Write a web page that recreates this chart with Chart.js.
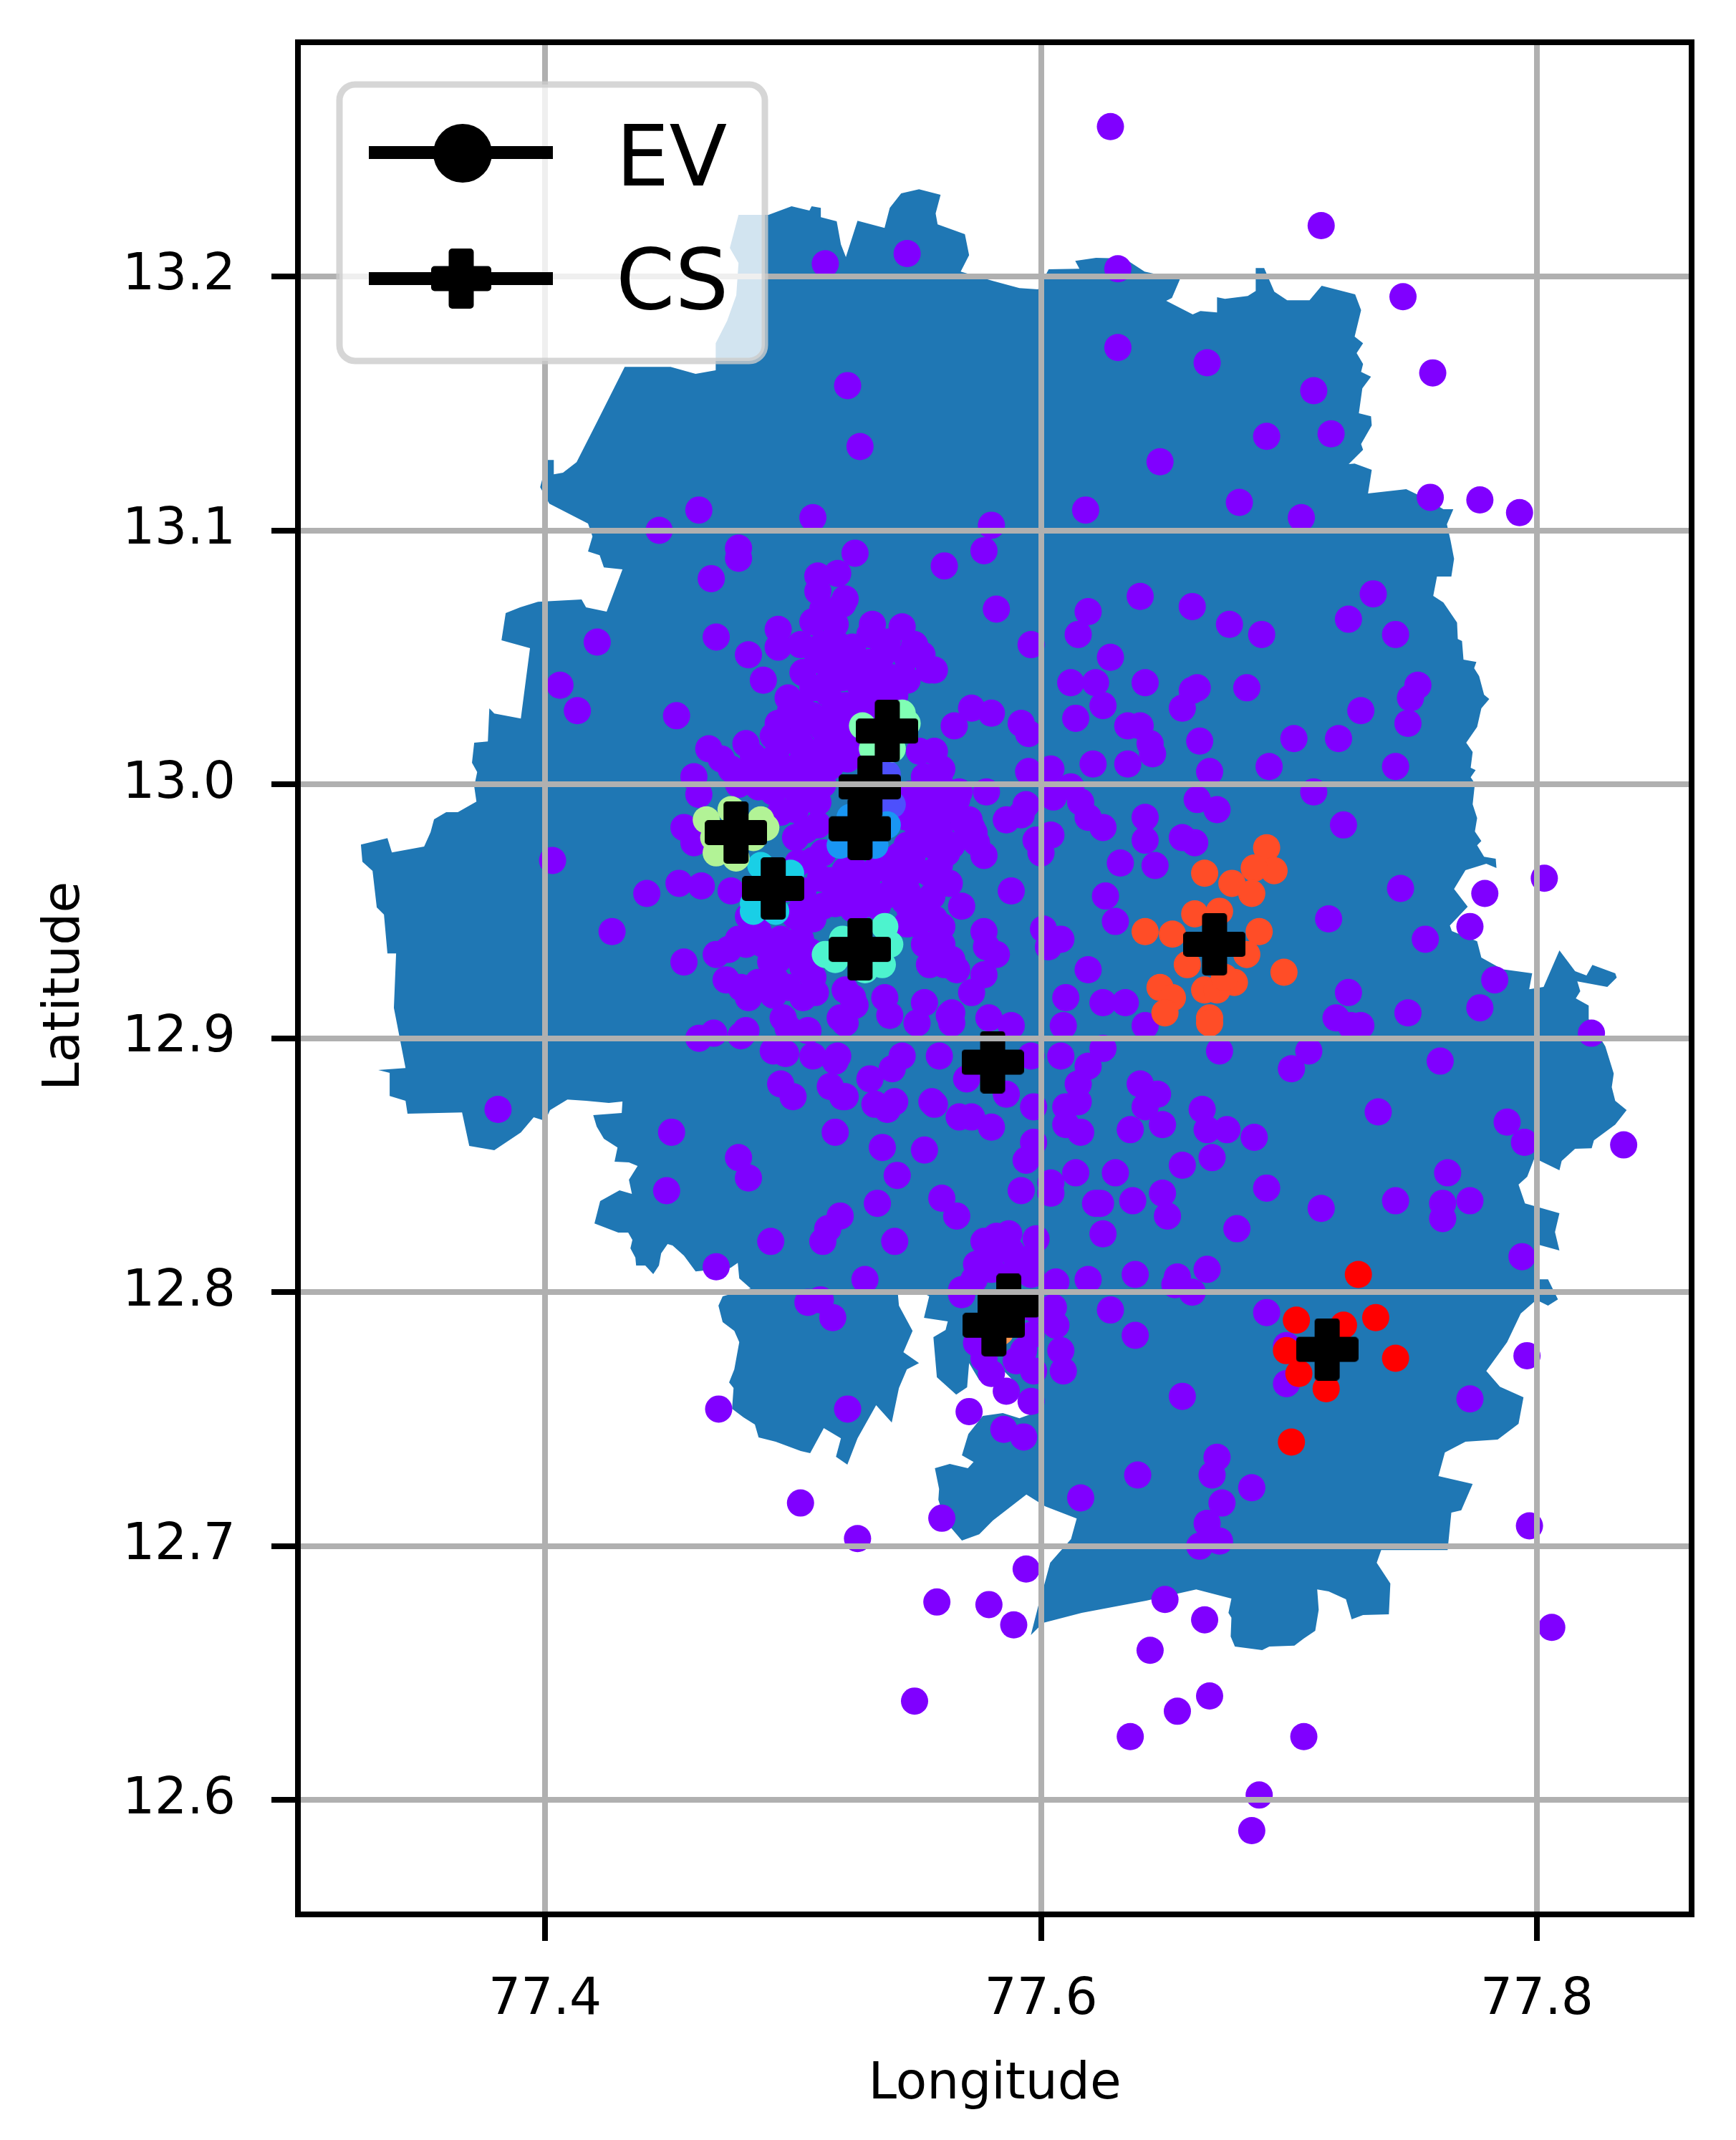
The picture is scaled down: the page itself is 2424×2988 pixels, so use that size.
<!DOCTYPE html>
<html>
<head>
<meta charset="utf-8">
<title>EV and CS locations</title>
<script src="https://cdn.jsdelivr.net/npm/chart.js@4"></script>
<style>
  html, body { margin: 0; padding: 0; background: #fff; }
  canvas { display: block; }
</style>
</head>
<body>
<canvas id="map" width="2424" height="2988"></canvas>
<script>
// values, [longitude, latitude]
const xTicks = [77.4, 77.6, 77.8];
const yTicks = [12.6, 12.7, 12.8, 12.9, 13.0, 13.1, 13.2];

const boundary = [
[77.4780,13.2242],[77.4901,13.2242],[77.4994,13.2276],[77.5066,13.2259],[77.5075,13.2276],[77.5112,13.2270],[77.5112,13.2233],[77.5176,13.2217],[77.5193,13.2126],[77.5213,13.2076],
[77.5260,13.2219],[77.5369,13.2191],[77.5390,13.2270],[77.5436,13.2327],[77.5508,13.2343],[77.5595,13.2321],[77.5575,13.2248],[77.5583,13.2205],[77.5693,13.2166],[77.5710,13.2084],
[77.5676,13.2019],[77.5806,13.1982],[77.5913,13.1954],[77.5988,13.1949],[77.6031,13.2028],[77.6155,13.2030],[77.6138,13.2061],[77.6222,13.2073],[77.6337,13.2070],[77.6418,13.2019],
[77.6560,13.1988],[77.6528,13.1915],[77.6505,13.1904],[77.6612,13.1850],[77.6643,13.1864],[77.6710,13.1858],[77.6710,13.1918],[77.6742,13.1912],[77.6834,13.1923],[77.6866,13.1943],
[77.6866,13.2033],[77.6900,13.2033],[77.6941,13.1940],[77.6993,13.1906],[77.7083,13.1906],[77.7132,13.1963],[77.7267,13.1929],[77.7291,13.1867],[77.7265,13.1763],[77.7299,13.1737],
[77.7273,13.1698],[77.7299,13.1655],[77.7291,13.1624],[77.7331,13.1605],[77.7296,13.1559],[77.7282,13.1461],[77.7331,13.1449],[77.7334,13.1413],[77.7291,13.1340],[77.7299,13.1317],
[77.7241,13.1261],[77.7265,13.1263],[77.7334,13.1238],[77.7319,13.1145],[77.7473,13.1162],[77.7539,13.1131],[77.7623,13.1083],[77.7663,13.1083],[77.7637,13.1024],[77.7652,13.0959],
[77.7666,13.0888],[77.7655,13.0818],[77.7597,13.0818],[77.7582,13.0742],[77.7623,13.0716],[77.7678,13.0637],[77.7681,13.0572],[77.7698,13.0564],[77.7704,13.0491],[77.7756,13.0482],
[77.7747,13.0457],[77.7767,13.0426],[77.7787,13.0353],[77.7808,13.0336],[77.7776,13.0299],[77.7759,13.0226],[77.7715,13.0164],[77.7741,13.0127],[77.7733,13.0065],[77.7753,13.0056],
[77.7733,13.0028],[77.7750,13.0003],[77.7741,12.9921],[77.7759,12.9867],[77.7750,12.9814],[77.7776,12.9777],[77.7759,12.9760],[77.7787,12.9715],[77.7834,12.9707],[77.7837,12.9670],
[77.7796,12.9687],[77.7712,12.9662],[77.7666,12.9588],[77.7721,12.9518],[77.7649,12.9444],[77.7657,12.9422],[77.7759,12.9382],[77.7776,12.9318],[77.7860,12.9272],[77.7981,12.9256],
[77.7969,12.9193],[77.8027,12.9202],[77.8091,12.9346],[77.8154,12.9264],[77.8200,12.9247],[77.8224,12.9289],[77.8316,12.9256],[77.8322,12.9239],[77.8284,12.9202],[77.8163,12.9224],
[77.8175,12.9185],[77.8157,12.9157],[77.8209,12.9129],[77.8209,12.9075],[77.8276,12.8968],[77.8310,12.8861],[77.8302,12.8807],[77.8316,12.8754],[77.8362,12.8717],[77.8316,12.8660],
[77.8230,12.8598],[77.8221,12.8567],[77.8154,12.8565],[77.8100,12.8517],[77.8091,12.8480],[77.7990,12.8528],[77.7961,12.8455],[77.7926,12.8424],[77.7952,12.8350],[77.8091,12.8311],
[77.8073,12.8237],[77.8091,12.8164],[77.8007,12.8187],[77.8007,12.8051],[77.8045,12.8051],[77.8085,12.7972],[77.8045,12.7947],[77.7998,12.7970],[77.7935,12.7916],[77.7880,12.7803],
[77.7796,12.7690],[77.7851,12.7628],[77.7946,12.7586],[77.7926,12.7482],[77.7842,12.7420],[77.7712,12.7411],[77.7629,12.7369],[77.7603,12.7276],[77.7741,12.7245],[77.7695,12.7141],
[77.7655,12.7132],[77.7640,12.6985],[77.7510,12.6985],[77.7372,12.6985],[77.7354,12.6935],[77.7409,12.6853],[77.7403,12.6732],[77.7299,12.6729],[77.7253,12.6712],[77.7230,12.6791],
[77.7160,12.6822],[77.7114,12.6830],[77.7120,12.6749],[77.7106,12.6667],[77.7059,12.6636],[77.7022,12.6608],[77.6921,12.6605],[77.6892,12.6591],[77.6782,12.6605],[77.6765,12.6644],
[77.6768,12.6718],[77.6756,12.6737],[77.6768,12.6794],[77.6626,12.6830],[77.6424,12.6785],[77.6164,12.6737],[77.6008,12.6698],[77.5959,12.6650],[77.5990,12.6768],[77.6008,12.6830],
[77.6037,12.6935],[77.6121,12.7028],[77.6144,12.7109],[77.6017,12.7157],[77.5941,12.7203],[77.5806,12.7101],[77.5751,12.7047],[77.5681,12.7022],[77.5612,12.7101],[77.5586,12.7183],
[77.5589,12.7225],[77.5572,12.7307],[77.5632,12.7324],[77.5705,12.7307],[77.5728,12.7332],[77.5681,12.7358],[77.5707,12.7442],[77.5765,12.7513],[77.5846,12.7524],[77.5913,12.7504],
[77.5953,12.7518],[77.5918,12.7575],[77.5881,12.7659],[77.5852,12.7688],[77.5803,12.7631],[77.5751,12.7654],[77.5710,12.7721],[77.5702,12.7626],[77.5658,12.7597],[77.5580,12.7665],
[77.5566,12.7823],[77.5615,12.7851],[77.5624,12.7885],[77.5528,12.7899],[77.5549,12.7984],[77.5499,12.8012],[77.5421,12.8012],[77.5427,12.7947],[77.5482,12.7848],[77.5445,12.7764],
[77.5508,12.7721],[77.5459,12.7696],[77.5427,12.7623],[77.5398,12.7487],[77.5335,12.7555],[77.5260,12.7425],[77.5219,12.7321],[77.5173,12.7352],[77.5193,12.7425],[77.5124,12.7465],
[77.5069,12.7366],[77.5031,12.7375],[77.4930,12.7411],[77.4861,12.7428],[77.4846,12.7479],[77.4800,12.7507],[77.4754,12.7541],[77.4760,12.7623],[77.4742,12.7645],[77.4763,12.7696],
[77.4783,12.7803],[77.4763,12.7848],[77.4716,12.7882],[77.4699,12.7947],[77.4716,12.7984],[77.4829,12.8015],[77.4783,12.8054],[77.4777,12.8116],[77.4748,12.8096],[77.4607,12.8082],
[77.4560,12.8144],[77.4514,12.8184],[77.4494,12.8190],[77.4468,12.8153],[77.4459,12.8105],[77.4436,12.8071],[77.4404,12.8105],[77.4367,12.8105],[77.4364,12.8136],[77.4344,12.8173],
[77.4352,12.8206],[77.4335,12.8235],[77.4295,12.8235],[77.4199,12.8271],[77.4222,12.8359],[77.4300,12.8401],[77.4350,12.8387],[77.4338,12.8443],[77.4373,12.8497],[77.4338,12.8511],
[77.4280,12.8514],[77.4292,12.8570],[77.4237,12.8604],[77.4208,12.8652],[77.4194,12.8697],[77.4309,12.8706],[77.4312,12.8751],[77.4257,12.8745],[77.4165,12.8754],[77.4090,12.8759],
[77.4020,12.8717],[77.4000,12.8675],[77.3954,12.8689],[77.3902,12.8629],[77.3795,12.8559],[77.3694,12.8576],[77.3665,12.8708],[77.3445,12.8703],[77.3437,12.8754],[77.3373,12.8773],
[77.3373,12.8864],[77.3327,12.8875],[77.3437,12.8883],[77.3390,12.9120],[77.3399,12.9334],[77.3364,12.9334],[77.3350,12.9487],[77.3321,12.9515],[77.3304,12.9659],[77.3263,12.9695],
[77.3257,12.9763],[77.3364,12.9788],[77.3382,12.9732],[77.3512,12.9755],[77.3538,12.9811],[77.3552,12.9862],[77.3601,12.9890],[77.3648,12.9890],[77.3723,12.9932],[77.3714,12.9992],
[77.3726,13.0048],[77.3705,13.0085],[77.3714,13.0164],[77.3769,13.0169],[77.3775,13.0299],[77.3795,13.0279],[77.3902,13.0259],[77.3939,13.0536],[77.3824,13.0567],[77.3841,13.0674],
[77.3899,13.0697],[77.3971,13.0719],[77.4147,13.0728],[77.4165,13.0697],[77.4248,13.0680],[77.4312,13.0846],[77.4237,13.0854],[77.4220,13.0902],[77.4173,13.0917],[77.4191,13.0976],
[77.4173,13.1027],[77.4017,13.1105],[77.3980,13.1170],[77.4009,13.1277],[77.4035,13.1277],[77.4035,13.1221],[77.4072,13.1227],[77.4127,13.1269],[77.4211,13.1430],[77.4321,13.1644],
[77.4506,13.1644],[77.4607,13.1616],[77.4688,13.1630],[77.4688,13.1737],[77.4734,13.1825],[77.4771,13.1926],[77.4780,13.2053],[77.4745,13.2112]
];

// EV points that stayed in the big cluster
const evMain = [
[77.628,13.259],[77.713,13.220],[77.631,13.203],[77.746,13.192],[77.631,13.172],[77.667,13.166],[77.758,13.162],[77.710,13.155],[77.691,13.137],[77.717,13.138],
[77.648,13.127],[77.618,13.108],[77.680,13.111],[77.705,13.105],[77.757,13.113],[77.777,13.112],[77.793,13.107],[77.580,13.102],[77.577,13.092],[77.561,13.086],
[77.582,13.069],[77.619,13.068],[77.640,13.074],[77.661,13.070],[77.676,13.063],[77.689,13.059],[77.734,13.075],[77.724,13.065],[77.743,13.059],[77.615,13.059],
[77.596,13.055],[77.628,13.050],[77.557,13.045],[77.612,13.040],[77.622,13.040],[77.642,13.040],[77.663,13.038],[77.661,13.037],[77.657,13.030],[77.683,13.038],
[77.752,13.039],[77.749,13.034],[77.729,13.029],[77.748,13.024],[77.625,13.031],[77.614,13.026],[77.702,13.018],[77.720,13.018],[77.664,13.017],[77.635,13.023],
[77.640,13.023],[77.644,13.016],[77.645,13.012],[77.621,13.008],[77.635,13.008],[77.692,13.007],[77.743,13.007],[77.668,13.005],[77.572,13.030],[77.580,13.028],
[77.565,13.023],[77.592,13.024],[77.595,13.020],[77.557,13.013],[77.560,13.006],[77.595,13.005],[77.604,13.006],[77.578,12.997],[77.612,12.999],[77.710,12.997],
[77.663,12.994],[77.671,12.990],[77.605,12.995],[77.616,12.993],[77.594,12.992],[77.619,12.987],[77.625,12.983],[77.586,12.986],[77.592,12.988],[77.642,12.987],
[77.642,12.978],[77.657,12.979],[77.662,12.977],[77.722,12.984],[77.604,12.980],[77.598,12.978],[77.600,12.973],[77.632,12.969],[77.646,12.968],[77.562,12.973],
[77.577,12.972],[77.574,12.977],[77.572,12.983],[77.569,12.985],[77.563,12.992],[77.745,12.959],[77.779,12.957],[77.803,12.963],[77.588,12.958],[77.626,12.956],
[77.630,12.946],[77.716,12.947],[77.773,12.944],[77.755,12.939],[77.563,12.961],[77.568,12.952],[77.560,12.944],[77.601,12.943],[77.608,12.939],[77.603,12.936],
[77.577,12.942],[77.578,12.936],[77.582,12.933],[77.619,12.927],[77.577,12.925],[77.572,12.918],[77.565,12.928],[77.560,12.930],[77.610,12.916],[77.625,12.914],
[77.634,12.914],[77.642,12.905],[77.609,12.905],[77.724,12.918],[77.748,12.910],[77.783,12.923],[77.777,12.912],[77.822,12.902],[77.719,12.908],[77.725,12.905],
[77.729,12.905],[77.579,12.908],[77.588,12.905],[77.563,12.909],[77.672,12.895],[77.708,12.895],[77.701,12.888],[77.761,12.891],[77.625,12.896],[77.608,12.893],
[77.619,12.889],[77.615,12.882],[77.559,12.893],[77.570,12.884],[77.586,12.878],[77.597,12.873],[77.640,12.882],[77.647,12.878],[77.642,12.873],[77.649,12.866],
[77.636,12.864],[77.665,12.872],[77.667,12.864],[77.675,12.864],[77.686,12.861],[77.736,12.871],[77.788,12.867],[77.795,12.859],[77.835,12.858],[77.615,12.875],
[77.610,12.873],[77.610,12.866],[77.616,12.863],[77.567,12.869],[77.572,12.869],[77.580,12.865],[77.557,12.874],[77.597,12.859],[77.669,12.853],[77.657,12.850],
[77.691,12.841],[77.614,12.847],[77.630,12.847],[77.594,12.852],[77.592,12.840],[77.604,12.839],[77.604,12.843],[77.560,12.837],[77.566,12.830],[77.622,12.835],
[77.624,12.835],[77.637,12.836],[77.649,12.839],[77.651,12.830],[77.625,12.823],[77.679,12.825],[77.713,12.833],[77.743,12.836],[77.764,12.847],[77.762,12.835],
[77.773,12.836],[77.762,12.829],[77.794,12.814],[77.619,12.805],[77.638,12.807],[77.655,12.806],[77.667,12.809],[77.654,12.803],[77.661,12.800],[77.628,12.793],
[77.638,12.783],[77.691,12.792],[77.657,12.759],[77.699,12.779],[77.699,12.764],[77.773,12.758],[77.796,12.775],[77.671,12.735],[77.669,12.728],[77.639,12.728],
[77.685,12.723],[77.673,12.717],[77.616,12.719],[77.667,12.709],[77.664,12.700],[77.672,12.702],[77.560,12.711],[77.797,12.708],[77.594,12.691],[77.579,12.677],
[77.558,12.678],[77.589,12.669],[77.650,12.679],[77.666,12.671],[77.644,12.659],[77.806,12.668],[77.668,12.641],[77.655,12.635],[77.636,12.625],[77.706,12.625],
[77.688,12.602],[77.685,12.588],[77.549,12.639],[77.571,12.753],[77.585,12.746],[77.593,12.743],[77.503,12.717],[77.526,12.703],[77.470,12.754],[77.522,12.754],
[77.469,12.810],[77.511,12.797],[77.506,12.796],[77.516,12.790],[77.449,12.840],[77.478,12.853],[77.482,12.845],[77.491,12.820],[77.512,12.820],[77.514,12.825],
[77.519,12.830],[77.534,12.835],[77.541,12.820],[77.542,12.846],[77.529,12.805],[77.451,12.863],[77.517,12.863],[77.536,12.857],[77.553,12.856],
[77.403,12.970],[77.427,12.942],[77.441,12.957],[77.456,12.930],[77.381,12.872],[77.406,13.039],[77.413,13.029],[77.421,13.056],[77.453,13.027],[77.467,13.081],
[77.469,13.058],[77.482,13.051],[77.488,13.041],[77.478,13.089],[77.513,13.205],[77.546,13.209],[77.522,13.157],[77.527,13.133],[77.462,13.108],[77.446,13.100],
[77.478,13.093],[77.508,13.105],[77.525,13.091],[77.510,13.082],[77.518,13.083],[77.510,13.076],[77.521,13.073],[77.494,13.061],[77.494,13.054],[77.503,13.055],
[77.508,13.064],[77.520,13.071],[77.512,13.055],[77.517,13.063],[77.532,13.063],[77.544,13.062],[77.531,13.059],[77.504,13.044],[77.514,13.036],[77.527,13.033],
[77.525,13.046],[77.536,13.051],[77.542,13.040],[77.546,13.050],[77.520,13.042],[77.532,13.042],[77.552,13.051],[77.555,13.045],[77.540,13.042],[77.503,13.031],
[77.499,13.029],[77.504,13.024],[77.492,13.019],[77.484,13.011],[77.466,13.014],[77.471,13.010],[77.475,13.006],[77.493,13.011],[77.503,13.016],[77.512,13.022],
[77.519,13.022],[77.517,13.014],[77.508,13.010],[77.484,13.006],[77.498,13.006],[77.512,13.014],[77.520,13.014],[77.460,13.003],[77.462,12.996],[77.479,13.003],
[77.493,13.000],[77.503,13.001],[77.456,12.983],[77.460,12.977],[77.495,12.989],[77.454,12.961],[77.463,12.960],[77.475,12.958],[77.505,12.982],[77.508,12.970],
[77.515,12.962],[77.553,12.987],[77.556,12.976],[77.549,12.966],[77.541,12.963],[77.504,12.958],[77.524,12.951],[77.512,12.952],[77.501,12.948],[77.552,12.992],
[77.566,12.994],[77.571,12.986],[77.573,12.981],[77.552,12.978],[77.548,12.971],[77.543,12.972],[77.534,12.967],[77.525,12.966],[77.546,12.958],[77.531,12.955],
[77.555,12.965],[77.545,12.954],[77.553,12.953],[77.557,12.947],[77.558,12.937],[77.564,12.931],[77.555,12.929],[77.561,12.929],[77.566,12.927],[77.537,12.916],
[77.539,12.909],[77.553,12.914],[77.550,12.906],[77.564,12.910],[77.564,12.906],[77.524,12.916],[77.525,12.913],[77.521,12.906],[77.544,12.893],[77.540,12.888],
[77.531,12.884],[77.541,12.875],[77.533,12.874],[77.538,12.872],[77.521,12.877],[77.556,12.875],[77.596,12.893],[77.469,12.933],[77.474,12.935],[77.481,12.937],
[77.488,12.937],[77.473,12.923],[77.482,12.916],[77.479,12.920],[77.493,12.923],[77.504,12.916],[77.509,12.918],[77.507,12.934],[77.498,12.933],[77.494,12.931],
[77.508,12.924],[77.503,12.939],[77.482,12.948],[77.508,12.947],[77.517,12.953],[77.530,12.954],[77.521,12.919],[77.519,12.908],[77.496,12.908],[77.506,12.903],
[77.498,12.904],[77.462,12.900],[77.468,12.902],[77.479,12.901],[77.481,12.903],[77.492,12.895],[77.497,12.894],[77.508,12.893],[77.518,12.893],[77.517,12.891],
[77.495,12.882],[77.500,12.877],[77.515,12.881],[77.520,12.877],[77.577,12.820],[77.582,12.822],[77.587,12.823],[77.598,12.821],[77.574,12.811],[77.581,12.816],
[77.588,12.816],[77.595,12.813],[77.606,12.804],[77.568,12.801],[77.573,12.805],[77.580,12.809],[77.588,12.807],[77.596,12.807],[77.568,12.799],[77.605,12.794],
[77.606,12.787],[77.608,12.777],[77.609,12.769],[77.574,12.780],[77.577,12.774],[77.580,12.768],[77.586,12.761],[77.596,12.757],[77.597,12.769],[77.593,12.777],
[77.590,12.773],[77.596,12.783],[77.590,12.793],[77.598,12.793],
[77.481,13.016],[77.488,13.008],[77.497,13.017],[77.504,13.010],[77.515,13.007],[77.522,13.010],[77.525,13.016],[77.508,13.003],[77.498,13.000],[77.478,13.000],
[77.486,12.999],[77.512,13.000],[77.492,12.997],[77.502,12.996],[77.510,13.049],[77.517,13.051],[77.515,13.042],[77.527,13.039],[77.534,13.037],[77.541,13.035],
[77.546,13.041],[77.531,13.048],[77.524,13.054],[77.538,13.056],[77.549,13.055],[77.508,13.038],[77.521,13.031],[77.534,13.030],[77.518,13.055],[77.512,13.069],
[77.551,13.013],[77.553,13.003],[77.559,13.001],[77.547,12.996],[77.556,12.996],[77.567,12.997],[77.501,12.990],[77.510,12.993],[77.501,12.979],[77.510,12.984],
[77.512,12.973],[77.502,12.969],[77.521,12.966],[77.530,12.963],[77.539,12.970],[77.546,12.976],[77.550,12.984],[77.559,12.982],[77.562,12.990],[77.564,12.976],
[77.559,12.968],[77.546,12.987],[77.517,12.958],[77.524,12.958],[77.537,12.956],[77.547,12.951],[77.556,12.956],[77.511,12.963],[77.497,12.959],[77.504,12.952],
[77.550,12.945],[77.553,12.937],[77.560,12.937],[77.546,12.945],[77.527,12.952],[77.534,12.952],[77.478,12.939],[77.486,12.942],[77.495,12.939],[77.492,12.917],
[77.486,12.922],[77.498,12.920],[77.504,12.928],[77.491,12.930],[77.498,13.034],[77.508,13.027],[77.494,13.024],[77.515,13.027],[77.524,13.027]
];

// smaller clusters, one array per label
const evIndigo = [[77.538,13.004],[77.540,12.992]];
const evBlue = [[77.519,12.976],[77.538,12.984],[77.523,12.987],[77.533,12.976]];
const evCyan = [[77.487,12.968],[77.499,12.965],[77.484,12.950],[77.493,12.950],[77.484,12.953]];
const evAqua = [[77.513,12.933],[77.520,12.939],[77.537,12.944],[77.539,12.937],[77.536,12.929],[77.529,12.927],[77.517,12.931]];
const evMint = [[77.528,13.023],[77.544,13.028],[77.540,13.014],[77.532,13.014],[77.546,13.024]];
const evLime = [[77.465,12.986],[77.475,12.990],[77.487,12.986],[77.489,12.983],[77.469,12.973],[77.477,12.971],[77.468,12.979],[77.484,12.979]];
const evOrange = [[77.5835,12.7843]];
const evTomato = [
[77.691,12.975],[77.694,12.966],[77.686,12.967],[77.677,12.961],[77.685,12.957],[77.666,12.965],[77.662,12.949],[77.672,12.950],[77.688,12.942],[77.642,12.942],
[77.653,12.941],[77.659,12.929],[77.683,12.933],[77.678,12.922],[77.698,12.926],[77.648,12.920],[77.653,12.916],[77.650,12.910],[77.666,12.919],[77.671,12.919],
[77.668,12.908],[77.668,12.906],[77.674,12.924]
];
const evRed = [[77.728,12.807],[77.703,12.789],[77.722,12.787],[77.735,12.790],[77.699,12.777],[77.704,12.768],[77.715,12.762],[77.743,12.774],[77.701,12.741]];

const csPoints = [
[77.538,13.021],[77.531,12.999],[77.527,12.9825],[77.477,12.981],[77.492,12.959],[77.527,12.935],
[77.5805,12.8906],[77.670,12.937],[77.7154,12.7775],[77.587,12.795],[77.581,12.787]
];

const toXY = pts => pts.map(p => ({ x: p[0], y: p[1] }));

// filled plus marker, like matplotlib's 'P'
function plusMarker(size, bar) {
  const c = document.createElement('canvas');
  c.width = size;
  c.height = size;
  const g = c.getContext('2d');
  const off = (size - bar) / 2;
  g.fillStyle = '#000';
  g.beginPath();
  g.roundRect(0, off, size, bar, 5);
  g.roundRect(off, 0, bar, size, 5);
  g.fill();
  return c;
}

function evSet(label, pts, color, order) {
  return {
    label: label,
    data: toXY(pts),
    backgroundColor: color,
    borderWidth: 0,
    pointRadius: 19,
    pointHoverRadius: 19,
    order: order
  };
}

// close the boundary line so 'shape' fill is not cut to the first/last x
const closeBoundary = {
  id: 'closeBoundary',
  afterDatasetsUpdate(chart) {
    const line = chart.getDatasetMeta(chart.data.datasets.length - 1).dataset;
    line._loop = true;
    line._segments = undefined;
  }
};

const frameAndLegend = {
  id: 'frameAndLegend',
  afterDraw(chart) {
    const ctx = chart.ctx;
    const a = chart.chartArea;
    ctx.save();

    // spines
    ctx.strokeStyle = '#000';
    ctx.lineWidth = 8;
    ctx.lineJoin = 'miter';
    ctx.strokeRect(a.left, a.top, a.right - a.left, a.bottom - a.top);

    // legend box
    ctx.beginPath();
    ctx.roundRect(474, 118, 594, 386, 22);
    ctx.fillStyle = 'rgba(255,255,255,0.8)';
    ctx.fill();
    ctx.strokeStyle = 'rgba(204,204,204,0.8)';
    ctx.lineWidth = 9;
    ctx.stroke();

    // handles
    ctx.strokeStyle = '#000';
    ctx.fillStyle = '#000';
    ctx.lineWidth = 18;
    ctx.beginPath();
    ctx.moveTo(515, 213);
    ctx.lineTo(772, 213);
    ctx.moveTo(515, 389);
    ctx.lineTo(772, 389);
    ctx.stroke();
    ctx.beginPath();
    ctx.arc(646, 214, 41, 0, Math.PI * 2);
    ctx.fill();
    ctx.drawImage(plusMarker(84, 35), 602, 347);

    ctx.font = '118px "DejaVu Sans"';
    ctx.textAlign = 'left';
    ctx.textBaseline = 'alphabetic';
    ctx.fillText('EV', 860, 259);
    ctx.fillText('CS', 860, 431);
    ctx.restore();
  }
};

const tickFont = { family: '"DejaVu Sans"', size: 71 };

new Chart(document.getElementById('map'), {
  type: 'scatter',
  plugins: [closeBoundary, frameAndLegend],
  data: {
    datasets: [
      { label: 'CS', data: toXY(csPoints), pointStyle: plusMarker(87, 35), pointRadius: 43, pointHoverRadius: 43, backgroundColor: '#000', borderWidth: 0, order: 0 },
      evSet('EV cluster 10', evRed, '#ff0000', 1),
      evSet('EV cluster 9', evTomato, '#ff4d27', 2),
      evSet('EV cluster 8', evOrange, '#ff964f', 3),
      evSet('EV cluster 6', evLime, '#b2f396', 4),
      evSet('EV cluster 5', evMint, '#80ffb4', 5),
      evSet('EV cluster 4', evAqua, '#4df3ce', 6),
      evSet('EV cluster 3', evCyan, '#19cfe6', 7),
      evSet('EV cluster 2', evBlue, '#1996f3', 8),
      evSet('EV cluster 1', evIndigo, '#4d50fc', 9),
      evSet('EV', evMain, '#8000ff', 10),
      {
        label: 'Boundary',
        data: toXY(boundary),
        showLine: true,
        fill: 'shape',
        tension: 0,
        backgroundColor: '#1f77b4',
        borderColor: '#1f77b4',
        borderWidth: 0,
        pointRadius: 0,
        pointHoverRadius: 0,
        order: 11
      }
    ]
  },
  options: {
    responsive: false,
    devicePixelRatio: 1,
    animation: false,
    events: [],
    layout: { padding: { top: 59, right: 62, left: 0, bottom: 0 } },
    plugins: {
      legend: { display: false },
      tooltip: { enabled: false }
    },
    scales: {
      x: {
        type: 'linear',
        min: 77.3003,
        max: 77.8624,
        afterFit: s => { s.height = 315; },
        afterBuildTicks: s => { s.ticks = xTicks.map(v => ({ value: v })); },
        grid: { z: 1, color: '#b0b0b0', lineWidth: 8, tickColor: '#000', tickWidth: 8, tickLength: 37 },
        border: { display: false },
        ticks: {
          color: '#000',
          font: tickFont,
          padding: 41,
          maxRotation: 0,
          callback: v => v.toFixed(1)
        },
        title: { display: true, text: 'Longitude', color: '#000', font: tickFont, padding: { top: 0, bottom: 34 } }
      },
      y: {
        type: 'linear',
        min: 12.555,
        max: 13.2922,
        // the tick padding would otherwise push the plot top down
        afterFit: s => { s.width = 416; s.paddingTop = 0; s.paddingBottom = 0; },
        afterBuildTicks: s => { s.ticks = yTicks.map(v => ({ value: v })); },
        afterUpdate: s => {
          // the reference's y title sits a little below the axis middle
          if (s.titleShifted) return;
          s.titleShifted = true;
          const drawTitle = s.drawTitle;
          s.drawTitle = function () {
            this.ctx.save();
            this.ctx.translate(0, 11);
            drawTitle.call(this);
            this.ctx.restore();
          };
        },
        grid: { z: 1, color: '#b0b0b0', lineWidth: 8, tickColor: '#000', tickWidth: 8, tickLength: 37 },
        border: { display: false },
        ticks: {
          color: '#000',
          font: tickFont,
          padding: 50,
          callback: v => v.toFixed(1)
        },
        title: { display: true, text: 'Latitude', color: '#000', font: tickFont, padding: { top: 49, bottom: 0 } }
      }
    }
  }
});
</script>
</body>
</html>
